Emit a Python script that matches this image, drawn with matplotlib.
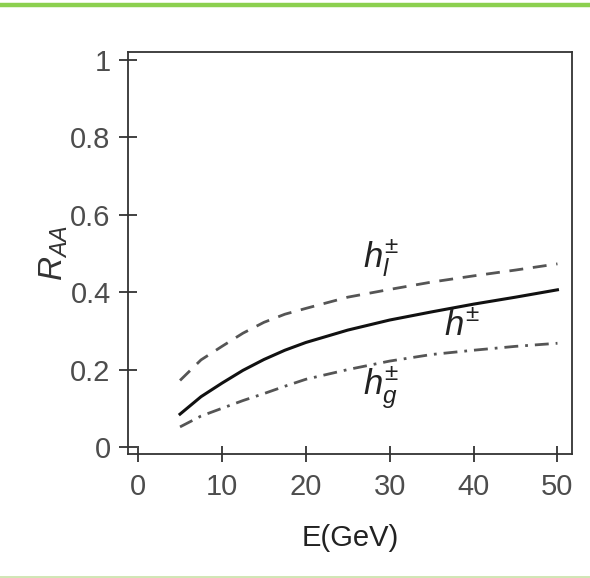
#!/usr/bin/env python3
"""R_AA vs E for h+-, light-quark and gluon fragments."""

import matplotlib

matplotlib.use("Agg")
import matplotlib.pyplot as plt
from matplotlib.lines import Line2D

plt.rcParams["font.family"] = ["Liberation Sans", "DejaVu Sans"]
plt.rcParams["mathtext.fontset"] = "custom"
plt.rcParams["mathtext.rm"] = "Liberation Sans"
plt.rcParams["mathtext.it"] = "Liberation Sans:italic"

# values
energy = [5, 7.5, 10, 12.5, 15, 17.5, 20, 25, 30, 35, 40, 45, 50]
raa_h = [0.085, 0.130, 0.165, 0.198, 0.226, 0.250, 0.270, 0.302, 0.328, 0.349, 0.369, 0.387, 0.406]
raa_light = [0.172, 0.225, 0.260, 0.294, 0.322, 0.343, 0.358, 0.387, 0.407, 0.426, 0.442, 0.457, 0.473]
raa_gluon = [0.052, 0.080, 0.100, 0.120, 0.138, 0.157, 0.175, 0.200, 0.222, 0.239, 0.250, 0.260, 0.268]

x_ticks = [0, 10, 20, 30, 40, 50]
y_ticks = [0, 0.2, 0.4, 0.6, 0.8, 1]
y_ticklabels = ["0", "0.2", "0.4", "0.6", "0.8", "1"]

labels = [r"$h_l^{\pm}$", r"$h^{\pm}$", r"$h_g^{\pm}$"]
label_pos = [(29.0, 0.487), (38.6, 0.313), (29.0, 0.152)]

fig = plt.figure(figsize=(5.9, 5.78), dpi=100)
ax = fig.add_axes([0.217, 0.2145, 0.752, 0.6955])

ax.plot(energy, raa_light, color="#555555", lw=2.0, dashes=(5, 3.5))
ax.plot(energy, raa_h, color="#111111", lw=2.2)
ax.plot(energy, raa_gluon, color="#555555", lw=2.0, dashes=(5, 2.5, 1, 2.5))

for txt, (tx, ty) in zip(labels, label_pos):
    ax.text(tx, ty, txt, fontsize=25, color="#222222", ha="center", va="center")

ax.set_xlim(-1.2, 51.7)
ax.set_ylim(-0.018, 1.02)
ax.set_xticks(x_ticks)
ax.set_yticks(y_ticks)
ax.set_yticklabels(y_ticklabels)

for sp in ax.spines.values():
    sp.set_color("#333333")
    sp.set_linewidth(1.3)

ax.tick_params(axis="y", direction="inout", length=13, width=1.3, color="#333333",
               labelsize=21, labelcolor="#4d4d4d", pad=6)
ax.tick_params(axis="x", direction="inout", length=12, width=1.3, color="#333333",
               labelsize=21, labelcolor="#4d4d4d", pad=8)

ax.set_xlabel("E(GeV)", fontsize=21, color="#222222", labelpad=16)
ax.set_ylabel(r"$R_{AA}$", fontsize=24, color="#333333", labelpad=0)

# page rules above and below the figure
fig.add_artist(Line2D([0, 1], [1 - 5 / 578, 1 - 5 / 578], transform=fig.transFigure,
                      color="#8cd04f", lw=3.2))
fig.add_artist(Line2D([0, 1], [1.5 / 578, 1.5 / 578], transform=fig.transFigure,
                      color="#c8e2a8", lw=1.2))

fig.savefig("out.png", dpi=100)
